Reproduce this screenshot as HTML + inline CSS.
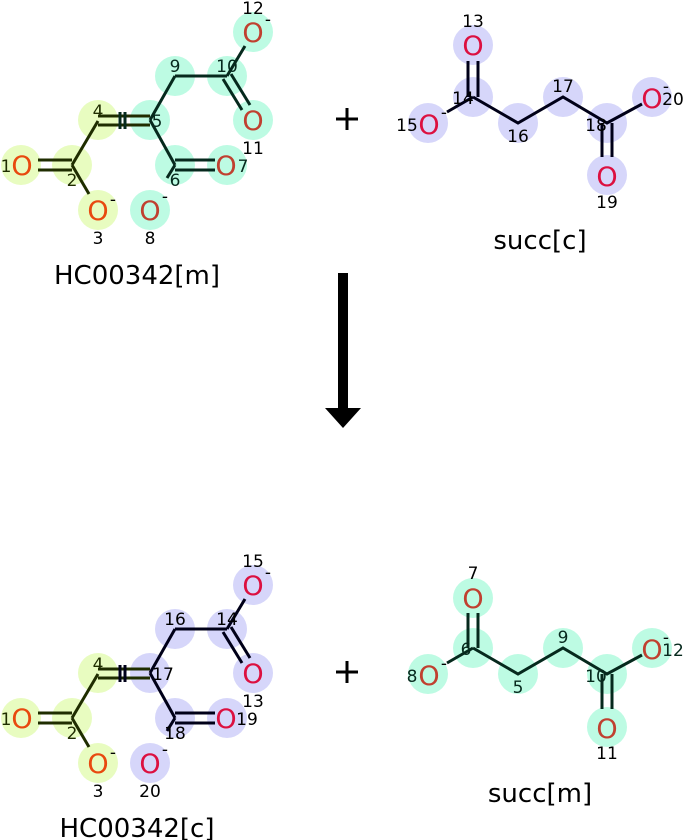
<!DOCTYPE html>
<html><head><meta charset="utf-8"><style>
html,body{margin:0;padding:0;background:#fff;}
svg{display:block;font-family:"DejaVu Sans","Liberation Sans",sans-serif;}
.n{font-size:17px;text-anchor:middle;}
.o{font-size:27px;text-anchor:middle;}
.lb{font-size:26px;text-anchor:middle;fill:#000;}
.b{stroke-width:3;fill:none;}
</style></head><body>
<svg width="683" height="840" viewBox="0 0 683 840" xmlns="http://www.w3.org/2000/svg">
<g>
<g fill="#e8fcc0"><circle cx="21" cy="165" r="20"/><circle cx="72" cy="165" r="20"/><circle cx="98" cy="210" r="20"/><circle cx="98" cy="120" r="20"/></g>
<g fill="#bdfbe3"><circle cx="150" cy="120" r="20"/><circle cx="175" cy="165" r="20"/><circle cx="227" cy="165" r="20"/><circle cx="150" cy="210" r="20"/><circle cx="175" cy="76" r="20"/><circle cx="227" cy="76" r="20"/><circle cx="253" cy="120" r="20"/><circle cx="253" cy="32" r="20"/></g>
<g class="b" stroke="#1f2d00">
<line x1="38" y1="160" x2="72" y2="160"/><line x1="38" y1="170" x2="72" y2="170"/>
<line x1="72" y1="165" x2="89" y2="194"/><line x1="72" y1="165" x2="98" y2="121"/>
<line x1="98" y1="116" x2="150" y2="116"/><line x1="98" y1="125" x2="150" y2="125"/>
</g>
<g class="b" stroke="#06291d">
<line x1="120" y1="112" x2="120" y2="129"/><line x1="125" y1="112" x2="125" y2="129"/>
<line x1="150" y1="120" x2="175" y2="76"/><line x1="175" y1="76" x2="227" y2="76"/>
<line x1="227" y1="76" x2="245" y2="46"/>
<line x1="223" y1="79" x2="242" y2="110"/><line x1="231" y1="74" x2="250" y2="105"/>
<line x1="150" y1="120" x2="175" y2="165"/>
<line x1="175" y1="160" x2="215" y2="160"/><line x1="175" y1="170" x2="215" y2="170"/>
<line x1="175" y1="165" x2="167" y2="178"/>
</g>
<text class="o" x="22" y="175" fill="#e8490f">O</text><text class="n" x="6" y="172" fill="#1f2d00">1</text>
<text class="n" x="72" y="186" fill="#1f2d00">2</text>
<text class="o" x="98" y="220" fill="#e8490f">O</text><text class="n" x="113" y="205">-</text><text class="n" x="98" y="244">3</text>
<text class="n" x="98" y="117" fill="#1f2d00">4</text>
<text class="n" x="157" y="127" fill="#06291d">5</text>
<text class="n" x="175" y="186" fill="#06291d">6</text>
<text class="o" x="226" y="175" fill="#c04030">O</text><text class="n" x="243" y="172" fill="#06291d">7</text>
<text class="o" x="150" y="220" fill="#c04030">O</text><text class="n" x="165" y="202">-</text><text class="n" x="150" y="244">8</text>
<text class="n" x="175" y="72" fill="#06291d">9</text>
<text class="n" x="227" y="72" fill="#06291d">10</text>
<text class="o" x="253" y="130" fill="#c04030">O</text><text class="n" x="253" y="154">11</text>
<text class="o" x="253" y="42" fill="#c04030">O</text><text class="n" x="253" y="14">12</text><text class="n" x="268" y="25">-</text>
<text class="lb" x="137" y="284">HC00342[m]</text>
</g>

<g>
<g fill="#d6d6fa"><circle cx="473" cy="45" r="20"/><circle cx="473" cy="97" r="20"/><circle cx="428" cy="123" r="20"/><circle cx="518" cy="123" r="20"/><circle cx="563" cy="97" r="20"/><circle cx="607" cy="123" r="20"/><circle cx="607" cy="175" r="20"/><circle cx="652" cy="97" r="20"/></g>
<g class="b" stroke="#000018">
<line x1="468" y1="97" x2="468" y2="61"/><line x1="478" y1="97" x2="478" y2="61"/>
<line x1="473" y1="97" x2="447" y2="112"/>
<polyline points="473,97 518,123 563,97 607,123 642,104"/>
<line x1="602" y1="123" x2="602" y2="157"/><line x1="612" y1="123" x2="612" y2="157"/>
</g>
<text class="o" x="473" y="55" fill="#dc1040">O</text><text class="n" x="473" y="27">13</text>
<text class="n" x="463" y="104">14</text>
<text class="o" x="429" y="134" fill="#dc1040">O</text><text class="n" x="407" y="131">15</text><text class="n" x="444" y="118">-</text>
<text class="n" x="518" y="142">16</text>
<text class="n" x="563" y="92">17</text>
<text class="n" x="596" y="131">18</text>
<text class="o" x="607" y="186" fill="#dc1040">O</text><text class="n" x="607" y="208">19</text>
<text class="o" x="652" y="108" fill="#dc1040">O</text><text class="n" x="673" y="105">20</text><text class="n" x="666" y="92">-</text>
<text class="lb" x="540" y="249">succ[c]</text>
</g>

<g stroke="#000" stroke-width="3">
<line x1="336" y1="119" x2="358" y2="119"/><line x1="347" y1="108" x2="347" y2="130"/>
<line x1="336" y1="672" x2="358" y2="672"/><line x1="347" y1="661" x2="347" y2="683"/>
</g>
<rect x="338" y="273" width="10" height="138" fill="#000"/>
<polygon points="325,408 361,408 343,428" fill="#000"/>

<g transform="translate(0,553)">
<g fill="#e8fcc0"><circle cx="21" cy="165" r="20"/><circle cx="72" cy="165" r="20"/><circle cx="98" cy="210" r="20"/><circle cx="98" cy="120" r="20"/></g>
<g fill="#d6d6fa"><circle cx="150" cy="120" r="20"/><circle cx="175" cy="165" r="20"/><circle cx="227" cy="165" r="20"/><circle cx="150" cy="210" r="20"/><circle cx="175" cy="76" r="20"/><circle cx="227" cy="76" r="20"/><circle cx="253" cy="120" r="20"/><circle cx="253" cy="32" r="20"/></g>
<g class="b" stroke="#1f2d00">
<line x1="38" y1="160" x2="72" y2="160"/><line x1="38" y1="170" x2="72" y2="170"/>
<line x1="72" y1="165" x2="89" y2="194"/><line x1="72" y1="165" x2="98" y2="121"/>
<line x1="98" y1="116" x2="150" y2="116"/><line x1="98" y1="125" x2="150" y2="125"/>
</g>
<g class="b" stroke="#000018">
<line x1="120" y1="112" x2="120" y2="129"/><line x1="125" y1="112" x2="125" y2="129"/>
<line x1="150" y1="120" x2="175" y2="76"/><line x1="175" y1="76" x2="227" y2="76"/>
<line x1="227" y1="76" x2="245" y2="46"/>
<line x1="223" y1="79" x2="242" y2="110"/><line x1="231" y1="74" x2="250" y2="105"/>
<line x1="150" y1="120" x2="175" y2="165"/>
<line x1="175" y1="160" x2="215" y2="160"/><line x1="175" y1="170" x2="215" y2="170"/>
<line x1="175" y1="165" x2="167" y2="178"/>
</g>
<text class="o" x="22" y="175" fill="#e8490f">O</text><text class="n" x="6" y="172" fill="#1f2d00">1</text>
<text class="n" x="72" y="186" fill="#1f2d00">2</text>
<text class="o" x="98" y="220" fill="#e8490f">O</text><text class="n" x="113" y="205">-</text><text class="n" x="98" y="244">3</text>
<text class="n" x="98" y="117" fill="#1f2d00">4</text>
<text class="n" x="163" y="127">17</text>
<text class="n" x="175" y="186">18</text>
<text class="o" x="226" y="175" fill="#dc1040">O</text><text class="n" x="247" y="172">19</text>
<text class="o" x="150" y="220" fill="#dc1040">O</text><text class="n" x="165" y="202">-</text><text class="n" x="150" y="244">20</text>
<text class="n" x="175" y="72">16</text>
<text class="n" x="227" y="72">14</text>
<text class="o" x="253" y="130" fill="#dc1040">O</text><text class="n" x="253" y="154">13</text>
<text class="o" x="253" y="42" fill="#dc1040">O</text><text class="n" x="253" y="14">15</text><text class="n" x="268" y="25">-</text>
<text class="lb" x="137" y="284">HC00342[c]</text>
</g>

<g transform="translate(0,551)">
<g fill="#bdfbe3"><circle cx="473" cy="47" r="20"/><circle cx="473" cy="97" r="20"/><circle cx="428" cy="123" r="20"/><circle cx="518" cy="123" r="20"/><circle cx="563" cy="97" r="20"/><circle cx="607" cy="123" r="20"/><circle cx="607" cy="176" r="20"/><circle cx="652" cy="97" r="20"/></g>
<g class="b" stroke="#06291d">
<line x1="468" y1="97" x2="468" y2="62"/><line x1="478" y1="97" x2="478" y2="62"/>
<line x1="473" y1="97" x2="447" y2="112"/>
<polyline points="473,97 518,123 563,97 607,123 642,104"/>
<line x1="602" y1="123" x2="602" y2="158"/><line x1="612" y1="123" x2="612" y2="158"/>
</g>
<text class="o" x="473" y="57" fill="#c04030">O</text><text class="n" x="473" y="28">7</text>
<text class="n" x="466" y="104" fill="#06291d">6</text>
<text class="o" x="429" y="134" fill="#c04030">O</text><text class="n" x="412" y="131" fill="#06291d">8</text><text class="n" x="444" y="118">-</text>
<text class="n" x="518" y="142" fill="#06291d">5</text>
<text class="n" x="563" y="92" fill="#06291d">9</text>
<text class="n" x="596" y="131" fill="#06291d">10</text>
<text class="o" x="607" y="187" fill="#c04030">O</text><text class="n" x="607" y="208">11</text>
<text class="o" x="652" y="108" fill="#c04030">O</text><text class="n" x="673" y="105" fill="#06291d">12</text><text class="n" x="666" y="92">-</text>
<text class="lb" x="540" y="251">succ[m]</text>
</g>
</svg>
</body></html>
